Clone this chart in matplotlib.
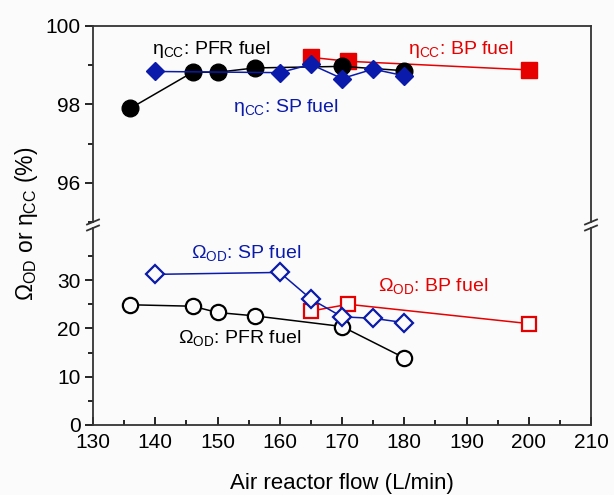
import matplotlib
matplotlib.use("Agg")
import matplotlib.pyplot as plt
from matplotlib.lines import Line2D

plt.rcParams['font.family'] = ['Liberation Sans', 'DejaVu Sans']
plt.rcParams['mathtext.fontset'] = 'custom'
plt.rcParams['mathtext.rm'] = 'Liberation Sans'
plt.rcParams['mathtext.it'] = 'Liberation Sans:italic'

# ---- data ----
pfr_x = [136, 146, 150, 156, 170, 180]
pfr_eta = [97.9, 98.82, 98.82, 98.93, 98.97, 98.86]
pfr_omega = [24.9, 24.6, 23.3, 22.6, 20.4, 13.9]

sp_x = [140, 160, 165, 170, 175, 180]
sp_eta = [98.84, 98.81, 99.02, 98.66, 98.9, 98.73]
sp_omega = [31.2, 31.6, 26.1, 22.4, 22.1, 21.2]

bp_x = [165, 171, 200]
bp_eta = [99.2, 99.1, 98.88]
bp_omega = [23.6, 25.0, 21.0]

xticks = [130, 140, 150, 160, 170, 180, 190, 200, 210]
upper_ticks = [96, 98, 100]
lower_ticks = [0, 10, 20, 30]

RED = '#e60000'
BLUE = '#0a1aaa'
BLACK = 'black'
BG = '#fbfbfb'

W, H = 614, 495
fig = plt.figure(figsize=(W / 100, H / 100), dpi=100, facecolor=BG)

def fx(px):
    return px / W

def fy(py):
    return (H - py) / H

left_px, right_px = 93, 591
up_top, up_bot = 26, 222
lo_top, lo_bot = 228, 425

ax_u = fig.add_axes([fx(left_px), fy(up_bot), fx(right_px) - fx(left_px), fy(up_top) - fy(up_bot)])
ax_l = fig.add_axes([fx(left_px), fy(lo_bot), fx(right_px) - fx(left_px), fy(lo_top) - fy(lo_bot)])

for ax in (ax_u, ax_l):
    ax.set_facecolor(BG)
    ax.set_xlim(130, 210)
    for s in ax.spines.values():
        s.set_color('#333333')
        s.set_linewidth(1.3)

# upper panel
ax_u.set_ylim(95, 100)
ax_u.spines['bottom'].set_visible(False)
ax_u.set_yticks(upper_ticks)
ax_u.set_yticks([95, 97, 99], minor=True)
ax_u.tick_params(axis='x', which='both', bottom=False, top=False, labelbottom=False)

# lower panel
ax_l.set_ylim(0, 40.8)
ax_l.spines['top'].set_visible(False)
ax_l.set_yticks(lower_ticks)
ax_l.set_yticks([5, 15, 25, 35], minor=True)
ax_l.set_xticks(xticks)
ax_l.set_xticks([135 + 10 * i for i in range(8)], minor=True)
ax_l.tick_params(axis='x', which='major', direction='in', length=6, width=1.2, labelsize=15, pad=6)
ax_l.tick_params(axis='x', which='minor', direction='in', length=3.5, width=1.2)

for ax in (ax_u, ax_l):
    ax.tick_params(axis='y', which='major', direction='out', length=6, width=1.2, labelsize=15, pad=3)
    ax.tick_params(axis='y', which='minor', direction='out', length=3.5, width=1.2)

lw = 1.1
# upper: eta (filled)
ax_u.plot(bp_x, bp_eta, color=RED, lw=lw, marker='s', ms=11, mfc=RED, mec=RED, zorder=3, clip_on=False)
ax_u.plot(pfr_x, pfr_eta, color=BLACK, lw=lw, marker='o', ms=12, mfc=BLACK, mec=BLACK, zorder=4, clip_on=False)
ax_u.plot(sp_x, sp_eta, color=BLUE, lw=lw, marker='D', ms=9.5, mfc=BLUE, mec=BLUE, zorder=5, clip_on=False)

# lower: omega (open)
ax_l.plot(bp_x, bp_omega, color=RED, lw=lw, marker='s', ms=10.5, mfc=BG, mec=RED, mew=1.6, zorder=3)
ax_l.plot(pfr_x, pfr_omega, color=BLACK, lw=lw, marker='o', ms=11, mfc=BG, mec=BLACK, mew=1.6, zorder=4)
ax_l.plot(sp_x, sp_omega, color=BLUE, lw=lw, marker='D', ms=9.5, mfc=BG, mec=BLUE, mew=1.6, zorder=5)

# annotations
fs = 14
def note(px, py, txt, color):
    fig.text(fx(px), fy(py), txt, color=color, fontsize=fs, ha='left', va='center')

note(152, 50, r'η$_{\mathrm{CC}}$: PFR fuel', BLACK)
note(408, 50, r'η$_{\mathrm{CC}}$: BP fuel', RED)
note(233, 108, r'η$_{\mathrm{CC}}$: SP fuel', BLUE)
note(191, 253, r'Ω$_{\mathrm{OD}}$: SP fuel', BLUE)
note(378, 286, r'Ω$_{\mathrm{OD}}$: BP fuel', RED)
note(178, 338, r'Ω$_{\mathrm{OD}}$: PFR fuel', BLACK)

# axis labels
fig.text(fx(342), fy(483), 'Air reactor flow (L/min)', fontsize=16, ha='center', va='center')
fig.text(fx(27), fy(224), r'Ω$_{\mathrm{OD}}$ or η$_{\mathrm{CC}}$ (%)', fontsize=16.5,
         ha='center', va='center', rotation=90)

# break marks
for xp in (left_px, right_px):
    for yp in (up_bot, lo_top):
        fig.add_artist(Line2D([fx(xp - 6), fx(xp + 6)], [fy(yp + 2.5), fy(yp - 2.5)],
                              color='#333333', lw=1.3))

fig.savefig('out.png', dpi=100, facecolor=fig.get_facecolor())
